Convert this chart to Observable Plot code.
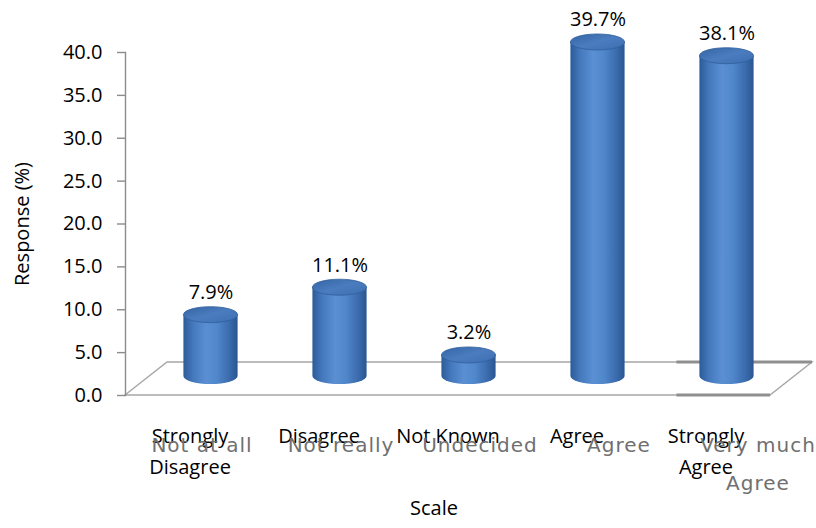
<!DOCTYPE html>
<html><head><meta charset="utf-8">
<script src="https://cdn.jsdelivr.net/npm/d3@7"></script>
<script src="https://cdn.jsdelivr.net/npm/@observablehq/plot@0.6"></script>
<style>
body{margin:0;background:#fff}
#wrap{position:relative;width:816px;height:528px;overflow:hidden}
#wrap svg{position:absolute;left:0;top:0;overflow:visible}
#alt text{letter-spacing:1px}
</style></head><body><div id="wrap"></div>
<script>
// ---- data ----
const categories = ["Strongly Disagree", "Disagree", "Not Known", "Agree", "Strongly Agree"];
const values = [7.9, 11.1, 3.2, 39.7, 38.1];
const altLabels = ["Not at all", "Not really", "Undecided", "Agree", "Very much Agree"];
const yTicks = [0, 5, 10, 15, 20, 25, 30, 35, 40];
const yLabel = "Response (%)";
const xLabel = "Scale";

const rows = categories.map((c, i) => ({cat: c, value: values[i]}));
const wrapText = s => s.replace("Strongly ", "Strongly\n").replace("Very much ", "Very much\n");

// ---- 3D decoration (styles) ----
const depth = {dx: 42, dy: -33};
const barShift = {dx: 21, base: -19, top: -12.6};

function floorMark(index, scales, values, dims) {
  const x0 = dims.marginLeft, x1 = dims.width - dims.marginRight;
  const y0 = scales.y(0);
  const g = d3.create("svg:g").attr("fill", "none");
  g.append("path")
    .attr("d", `M${x0},${y0}L${x1},${y0}L${x1 + depth.dx},${y0 + depth.dy}L${x0 + depth.dx},${y0 + depth.dy}Z`)
    .attr("stroke", "#a6a6a6").attr("stroke-width", 1.4);
  const xs = x0 + (x1 - x0) * 0.855;
  g.append("path")
    .attr("d", `M${xs},${y0}L${x1},${y0}M${xs},${y0 + depth.dy}L${x1 + depth.dx},${y0 + depth.dy}`)
    .attr("stroke", "#8f8f8f").attr("stroke-width", 3);
  return g.node();
}

function cylinderMark(index, scales, vals, dims) {
  const x = scales.x, y = scales.y;
  const bw = x.bandwidth ? x.bandwidth() : 129;
  const r = bw * 0.21, ry = 8;
  const g = d3.create("svg:g");
  const defs = g.append("defs");
  const body = defs.append("linearGradient").attr("id", "cylBody").attr("x1", 0).attr("x2", 1).attr("y1", 0).attr("y2", 0);
  [[0, "#2c5b98"], [0.18, "#4479bd"], [0.42, "#5a8fd3"], [0.62, "#5087cb"], [0.85, "#3a6bad"], [1, "#2a5691"]]
    .forEach(([o, c]) => body.append("stop").attr("offset", o).attr("stop-color", c));
  const top = defs.append("linearGradient").attr("id", "cylTop").attr("x1", 0).attr("x2", 1).attr("y1", 0).attr("y2", 1);
  [[0, "#3464a3"], [0.5, "#4a7cbf"], [1, "#3d6eb0"]]
    .forEach(([o, c]) => top.append("stop").attr("offset", o).attr("stop-color", c));
  rows.forEach(d => {
    const cx = x(d.cat) + bw / 2 + barShift.dx;
    const yb = y(0) + barShift.base;
    const yt = y(d.value) + barShift.top;
    g.append("path")
      .attr("d", `M${cx - r},${yt}L${cx - r},${yb}A${r},${ry} 0 0 0 ${cx + r},${yb}L${cx + r},${yt}Z`)
      .attr("fill", "url(#cylBody)");
    g.append("ellipse")
      .attr("cx", cx).attr("cy", yt).attr("rx", r).attr("ry", ry)
      .attr("fill", "url(#cylTop)").attr("stroke", "#2f5e9c").attr("stroke-width", 0.8);
  });
  return g.node();
}

const main = Plot.plot({
  width: 816,
  height: 528,
  marginLeft: 125,
  marginRight: 46,
  marginTop: 52,
  marginBottom: 133,
  style: {fontFamily: "Open Sans", fontSize: "20px", color: "#000", background: "transparent"},
  x: {type: "band", domain: categories, padding: 0, axis: null},
  y: {domain: [0, 40], axis: null},
  marks: [
    floorMark,
    Plot.frame({anchor: "left", stroke: "#8c8c8c", strokeWidth: 1.4}),
    Plot.axisY({ticks: yTicks, tickFormat: d => d.toFixed(1), tickSize: 8, tickPadding: 15, stroke: "#8c8c8c", strokeWidth: 1.4, fontSize: 20, label: null}),
    cylinderMark,
    Plot.text(rows, {x: "cat", y: "value", text: d => d.value.toFixed(1) + "%", dx: barShift.dx, dy: -35, fontSize: 20, fill: "#000"}),
    Plot.text(rows, {x: "cat", text: d => wrapText(d.cat), frameAnchor: "bottom", lineAnchor: "top", dy: 25, lineHeight: 1.55, fontSize: 20, fill: "#000"}),
    Plot.text([yLabel], {text: d => d, frameAnchor: "left", textAnchor: "middle", rotate: -90, dx: -103, fontSize: 20, fill: "#000"}),
    Plot.text([xLabel], {text: d => d, frameAnchor: "bottom", textAnchor: "middle", dx: -14, dy: 119, fontSize: 20, fill: "#000"})
  ]
});

const alt = Plot.plot({
  width: 816,
  height: 528,
  marginLeft: 0,
  marginRight: 0,
  marginTop: 52,
  marginBottom: 133,
  style: {fontFamily: "DejaVu Sans", fontSize: "20px", background: "transparent"},
  x: {type: "band", domain: altLabels, range: [132, 827], padding: 0, axis: null},
  marks: [
    Plot.text(altLabels, {x: d => d, text: d => wrapText(d), frameAnchor: "bottom", lineAnchor: "top", dy: 30, lineHeight: 1.9, fontSize: 20, fill: "#707070"})
  ]
});
alt.setAttribute("id", "alt");

const wrap = document.getElementById("wrap");
wrap.appendChild(main);
wrap.appendChild(alt);
</script></body></html>
